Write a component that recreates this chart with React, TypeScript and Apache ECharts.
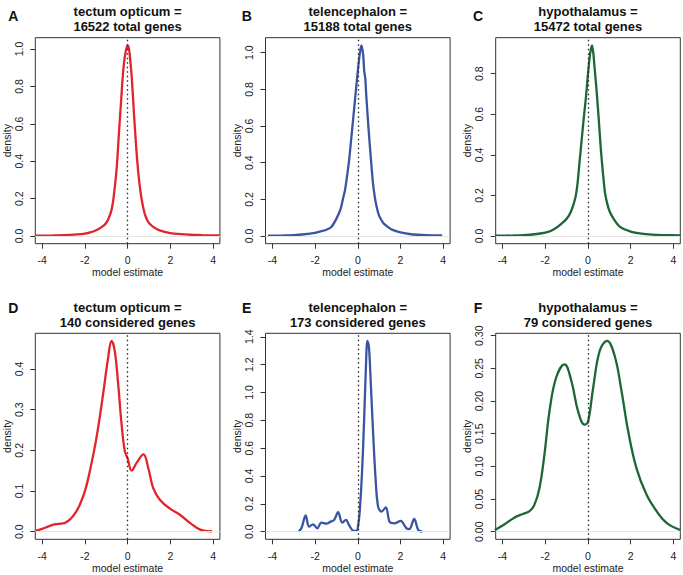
import React, { useEffect, useRef } from "react";
import * as echarts from "echarts";

// ---------- data ----------
const X_TICKS = [-4, -2, 0, 2, 4];

const aX = [-4.3, -3.5, -3.0, -2.5, -2.0, -1.75, -1.5, -1.25, -1.0, -0.8, -0.7, -0.6, -0.5, -0.4, -0.3, -0.2, -0.1, 0.0, 0.05, 0.1, 0.2, 0.3, 0.4, 0.5, 0.6, 0.7, 0.8, 0.9, 1.0, 1.25, 1.5, 2.0, 2.5, 3.0, 3.5, 4.3];
const aY = [0.002, 0.003, 0.005, 0.008, 0.013, 0.02, 0.03, 0.045, 0.07, 0.12, 0.17, 0.26, 0.38, 0.56, 0.73, 0.89, 0.98, 1.02, 1.01, 0.97, 0.84, 0.65, 0.48, 0.34, 0.24, 0.17, 0.12, 0.09, 0.07, 0.045, 0.03, 0.016, 0.01, 0.007, 0.005, 0.003];

const bX = [-4.2, -3.5, -3.0, -2.5, -2.0, -1.75, -1.5, -1.25, -1.0, -0.8, -0.7, -0.6, -0.5, -0.4, -0.3, -0.2, -0.1, 0.0, 0.1, 0.17, 0.25, 0.3, 0.35, 0.4, 0.5, 0.6, 0.7, 0.8, 0.9, 1.0, 1.2, 1.4, 1.6, 2.0, 2.5, 3.0, 3.5, 3.95];
const bY = [0.002, 0.003, 0.005, 0.01, 0.018, 0.025, 0.033, 0.048, 0.095, 0.15, 0.2, 0.25, 0.33, 0.42, 0.54, 0.66, 0.78, 0.9, 1.0, 1.04, 0.99, 0.9, 0.86, 0.76, 0.59, 0.44, 0.3, 0.21, 0.15, 0.11, 0.07, 0.05, 0.035, 0.02, 0.01, 0.006, 0.004, 0.003];

const cX = [-4.35, -3.5, -3.0, -2.5, -2.0, -1.75, -1.5, -1.25, -1.0, -0.8, -0.6, -0.5, -0.4, -0.3, -0.2, -0.1, 0.0, 0.1, 0.19, 0.25, 0.3, 0.4, 0.5, 0.6, 0.7, 0.8, 0.9, 1.0, 1.2, 1.5, 2.0, 2.5, 3.0, 3.5, 4.35];
const cY = [0.002, 0.003, 0.005, 0.009, 0.017, 0.025, 0.04, 0.06, 0.085, 0.12, 0.185, 0.25, 0.36, 0.47, 0.58, 0.68, 0.8, 0.9, 0.94, 0.9, 0.84, 0.72, 0.58, 0.43, 0.31, 0.21, 0.16, 0.125, 0.085, 0.045, 0.022, 0.012, 0.007, 0.005, 0.003];

const dX = [-4.33, -4.0, -3.7, -3.42, -3.1, -2.95, -2.64, -2.4, -2.24, -2.0, -1.77, -1.46, -1.15, -0.91, -0.75, -0.6, -0.44, -0.28, -0.13, 0.0, 0.19, 0.42, 0.74, 0.97, 1.2, 1.52, 2.0, 2.46, 2.93, 3.4, 3.95];
const dY = [0.002, 0.007, 0.013, 0.018, 0.02, 0.021, 0.033, 0.05, 0.066, 0.099, 0.148, 0.23, 0.337, 0.428, 0.469, 0.444, 0.362, 0.263, 0.198, 0.18, 0.15, 0.169, 0.19, 0.156, 0.107, 0.078, 0.056, 0.041, 0.021, 0.005, 0.001];

const eX = [-2.77, -2.64, -2.44, -2.28, -2.09, -1.9, -1.7, -1.47, -1.27, -1.11, -0.92, -0.73, -0.55, -0.42, -0.22, -0.06, 0.02, 0.09, 0.2, 0.3, 0.375, 0.45, 0.52, 0.61, 0.72, 0.83, 0.95, 1.11, 1.31, 1.5, 1.73, 2.0, 2.28, 2.41, 2.64, 2.83, 3.03];
const eY = [0, 0.024, 0.116, 0.036, 0.053, 0.024, 0.065, 0.058, 0.072, 0.084, 0.14, 0.065, 0.085, 0.05, 0.007, 0.005, 0.048, 0.145, 0.43, 0.82, 1.16, 1.37, 1.33, 1.06, 0.7, 0.386, 0.18, 0.145, 0.174, 0.068, 0.06, 0.077, 0.024, 0.019, 0.092, 0.012, 0];

const fX = [-4.36, -3.92, -3.45, -3.06, -2.75, -2.51, -2.27, -2.04, -1.8, -1.49, -1.1, -0.78, -0.47, -0.16, 0.0, 0.24, 0.55, 0.89, 1.25, 1.57, 1.88, 2.27, 2.75, 3.22, 3.69, 4.31];
const fY = [0.0026, 0.011, 0.0215, 0.027, 0.031, 0.041, 0.067, 0.118, 0.185, 0.236, 0.256, 0.231, 0.185, 0.164, 0.168, 0.22, 0.277, 0.292, 0.269, 0.215, 0.154, 0.097, 0.056, 0.031, 0.013, 0.0026];

const yTicksA = [0, 0.2, 0.4, 0.6, 0.8, 1.0];
const yTicksB = [0, 0.2, 0.4, 0.6, 0.8, 1.0];
const yTicksC = [0, 0.2, 0.4, 0.6, 0.8];
const yTicksD = [0, 0.1, 0.2, 0.3, 0.4];
const yTicksE = [0, 0.2, 0.4, 0.6, 0.8, 1.0, 1.2, 1.4];
const yTicksF = [0, 0.05, 0.1, 0.15, 0.2, 0.25, 0.3];

const letters = ["A", "B", "C", "D", "E", "F"];
const titles = [
  "tectum opticum =\n16522 total genes",
  "telencephalon =\n15188 total genes",
  "hypothalamus =\n15472 total genes",
  "tectum opticum =\n140 considered genes",
  "telencephalon =\n173 considered genes",
  "hypothalamus =\n79 considered genes",
];

const RED = "#e2242b";
const BLUE = "#3a54a2";
const GREEN = "#1d6635";

const panels = [
  { xs: aX, ys: aY, color: RED, yTicks: yTicksA, dec: 1, smooth: 0.25 },
  { xs: bX, ys: bY, color: BLUE, yTicks: yTicksB, dec: 1, smooth: 0.25 },
  { xs: cX, ys: cY, color: GREEN, yTicks: yTicksC, dec: 1, smooth: 0.25 },
  { xs: dX, ys: dY, color: RED, yTicks: yTicksD, dec: 1, smooth: 0.4 },
  { xs: eX, ys: eY, color: BLUE, yTicks: yTicksE, dec: 1, smooth: 0.35 },
  { xs: fX, ys: fY, color: GREEN, yTicks: yTicksF, dec: 2, smooth: 0.4 },
];

// ---------- layout ----------
const LEFTS = [35.3, 265.5, 495.7];
const TOPS = [37.7, 333.3];
const W = 184.6;
const H = 206;
const FONT = '"Liberation Sans", Arial, Helvetica, sans-serif';
const LETTER_X = [13.3, 246.7, 478];
const LETTER_Y = [15.5, 308];
const TITLE_Y = [18.7, 315];

export default function App() {
  const ref = useRef<HTMLDivElement>(null);

  useEffect(() => {
    document.body.style.margin = "0";
    if (!ref.current) return;
    const chart = echarts.init(ref.current, undefined, { renderer: "svg" });

    const grids: any[] = [];
    const xAxes: any[] = [];
    const yAxes: any[] = [];
    const series: any[] = [];
    const graphics: any[] = [];

    panels.forEach((p, i) => {
      const col = i % 3;
      const row = Math.floor(i / 3);
      const maxY = Math.max(...p.ys);
      grids.push({
        left: LEFTS[col],
        top: TOPS[row],
        width: W,
        height: H,
        show: true,
        borderColor: "#333",
        borderWidth: 1,
        backgroundColor: "transparent",
      });
      xAxes.push({
        type: "value",
        gridIndex: i,
        min: -4.32,
        max: 4.32,
        name: "model estimate",
        nameLocation: "middle",
        nameGap: 23,
        nameTextStyle: { fontFamily: FONT, fontSize: 10.5, color: "#222" },
        axisLine: { show: false, onZero: false },
        axisTick: {
          show: true,
          inside: false,
          length: 5,
          customValues: X_TICKS,
          lineStyle: { color: "#333", width: 1 },
        },
        axisLabel: {
          customValues: X_TICKS,
          margin: 11,
          fontFamily: FONT,
          fontSize: 10.5,
          color: "#222",
          formatter: (v: number) => String(v),
        },
        splitLine: { show: false },
      });
      yAxes.push({
        type: "value",
        gridIndex: i,
        min: -0.04 * maxY,
        max: 1.04 * maxY,
        name: "density",
        nameLocation: "middle",
        nameGap: 21,
        nameRotate: 90,
        nameTextStyle: { fontFamily: FONT, fontSize: 10.5, color: "#222" },
        axisLine: { show: false, onZero: false },
        axisTick: {
          show: true,
          inside: false,
          length: 5,
          customValues: p.yTicks,
          lineStyle: { color: "#333", width: 1 },
        },
        axisLabel: {
          customValues: p.yTicks,
          rotate: 90,
          margin: 11,
          fontFamily: FONT,
          fontSize: 10.5,
          color: "#222",
          formatter: (v: number) => v.toFixed(p.dec),
        },
        splitLine: { show: false },
      });
      series.push({
        type: "line",
        xAxisIndex: i,
        yAxisIndex: i,
        data: p.xs.map((x, k) => [x, p.ys[k]]),
        showSymbol: false,
        symbol: "none",
        smooth: p.smooth,
        clip: true,
        lineStyle: { color: p.color, width: 2.3 },
        z: 3,
        markLine: {
          silent: true,
          symbol: ["none", "none"],
          label: { show: false },
          z: 4,
          data: [
            { yAxis: 0, lineStyle: { color: "#e4e4e4", width: 1, type: "solid" } },
            { xAxis: 0, lineStyle: { color: "#222", width: 1.3, type: [1.5, 3] } },
          ],
        },
      });
      graphics.push({
        type: "text",
        x: LEFTS[col] + W / 2,
        y: TITLE_Y[row],
        style: {
          text: titles[i],
          fontFamily: FONT,
          fontSize: 13,
          fontWeight: "bold",
          lineHeight: 15,
          fill: "#111",
          align: "center",
          verticalAlign: "middle",
        },
      });
      graphics.push({
        type: "text",
        x: LETTER_X[col],
        y: LETTER_Y[row],
        style: {
          text: letters[i],
          fontFamily: FONT,
          fontSize: 14,
          fontWeight: "bold",
          fill: "#111",
          align: "center",
          verticalAlign: "middle",
        },
      });
    });

    chart.setOption({
      animation: false,
      backgroundColor: "#ffffff",
      grid: grids,
      xAxis: xAxes,
      yAxis: yAxes,
      series,
      graphic: graphics,
    });

    return () => chart.dispose();
  }, []);

  return <div ref={ref} style={{ width: 683, height: 575 }} />;
}
